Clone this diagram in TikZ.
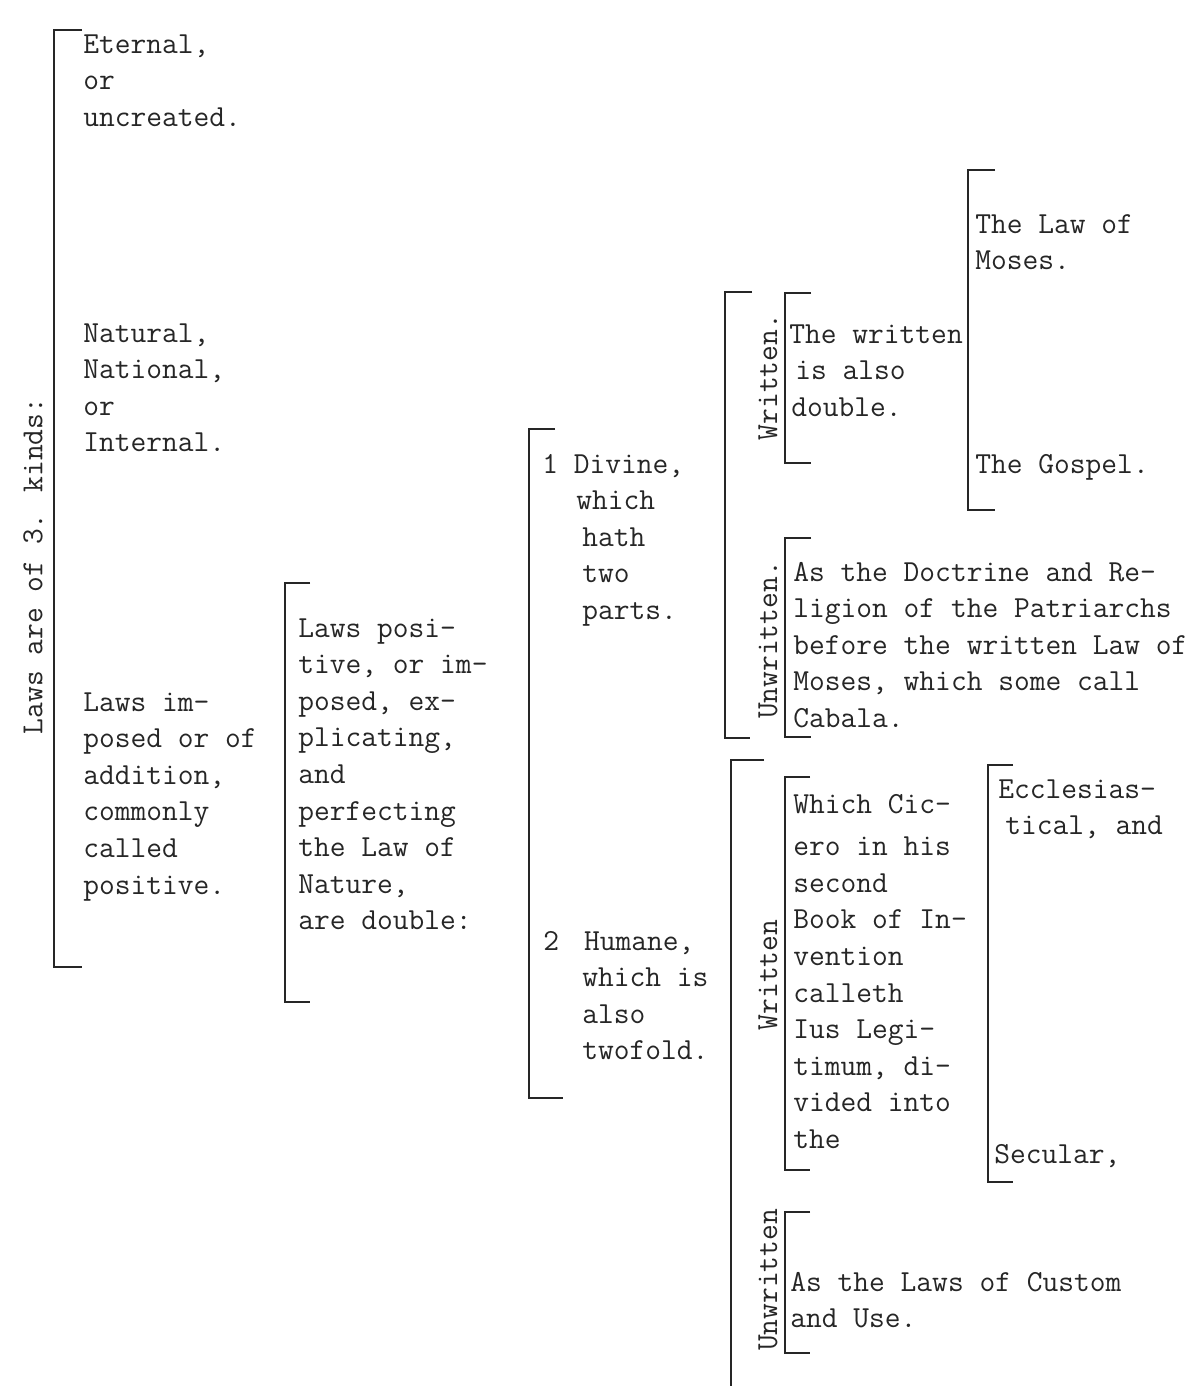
\documentclass[tikz,border=0pt]{standalone}
\usepackage{fontspec}
\newcommand\twfont{\ttfamily\addfontfeatures{FakeBold=1}\fontsize{15.3}{18.3}\selectfont}
\tikzset{
  txt/.style={font=\twfont, align=left, inner sep=0pt, anchor=north west, text=black!85},
  rot/.style={font=\twfont, inner sep=0pt, rotate=90, anchor=center, text=black!85},
  brk/.style={line width=1pt, black!85}
}
\begin{document}
\begin{tikzpicture}[x=0.5pt,y=-0.5pt]
\fill[white] (0,0) rectangle (1197,1386);
\useasboundingbox (0,0) rectangle (1197,1386);

% level 1
\node[rot] (kinds) at (33,566) {Laws are of 3. kinds:};
\draw[brk] (82,30) -- (54,30) -- (54,967) -- (82,967);
\node[txt] (eternal) at (83,27) {\strut Eternal,\\or\\uncreated.};
\node[txt] (natural) at (83,316) {\strut Natural,\\National,\\or\\Internal.};
\node[txt] (imposed) at (83,685) {\strut Laws im-\\posed or of\\addition,\\commonly\\called\\positive.};

% level 2
\draw[brk] (310,583) -- (285,583) -- (285,1002) -- (310,1002);
\node[txt] (positive) at (298,611) {\strut Laws posi-\\tive, or im-\\posed, ex-\\plicating,\\and\\perfecting\\the Law of\\Nature,\\are double:};

% level 3
\draw[brk] (555,429) -- (529,429) -- (529,1098) -- (563,1098);
\node[txt] (divine) at (542,447) {\strut 1 Divine,\\\hspace*{17pt}which\\\hspace*{20pt}hath\\\hspace*{20pt}two\\\hspace*{20pt}parts.};
\node[txt] (humane) at (543,924) {\strut 2\hspace{12.5pt}Humane,\\\hspace*{19.5pt}which is\\\hspace*{19.5pt}also\\\hspace*{19.5pt}twofold.};

% Divine branch
\draw[brk] (752,292) -- (725,292) -- (725,738) -- (750,738);
\node[rot] (wr1) at (768,377) {Written.};
\draw[brk] (811,293) -- (785,293) -- (785,463) -- (811,463);
\node[txt] (wrdouble) at (789,317) {\strut The written\\\hspace*{3pt}is also\\\hspace*{1pt}double.};
\draw[brk] (995,170) -- (968,170) -- (968,510) -- (995,510);
\node[txt] (moses) at (975,207) {\strut The Law of\\Moses.};
\node[txt] (gospel) at (975,447) {\strut The Gospel.};
\node[rot] (unwr1) at (768,640) {Unwritten.};
\draw[brk] (811,538) -- (785,538) -- (785,737) -- (811,737);
\node[txt] (cabala) at (793,555) {\strut As the Doctrine and Re-\\ligion of the Patriarchs\\before the written Law of\\Moses, which some call\\Cabala.};

% Humane branch
\draw[brk] (764,760) -- (731,760) -- (731,1386);
\node[rot] (wr2) at (768,975) {Written};
\draw[brk] (810,777) -- (785,777) -- (785,1170) -- (810,1170);
\node[txt] (cicero) at (793,787) {\strut Which Cic-\\[3pt]ero in his\\second\\Book of In-\\vention\\calleth\\Ius Legi-\\timum, di-\\vided into\\the};
\draw[brk] (1013,765) -- (988,765) -- (988,1182) -- (1013,1182);
\node[txt] (eccl) at (998,772) {\strut Ecclesias-\\\hspace*{3.5pt}tical, and};
\node[txt] (secular) at (994,1137) {\strut Secular,};
\node[rot] (unwr2) at (768,1280) {Unwritten};
\draw[brk] (810,1212) -- (785,1212) -- (785,1353) -- (810,1353);
\node[txt] (custom) at (790,1265) {\strut As the Laws of Custom\\and Use.};
\end{tikzpicture}
\end{document}
